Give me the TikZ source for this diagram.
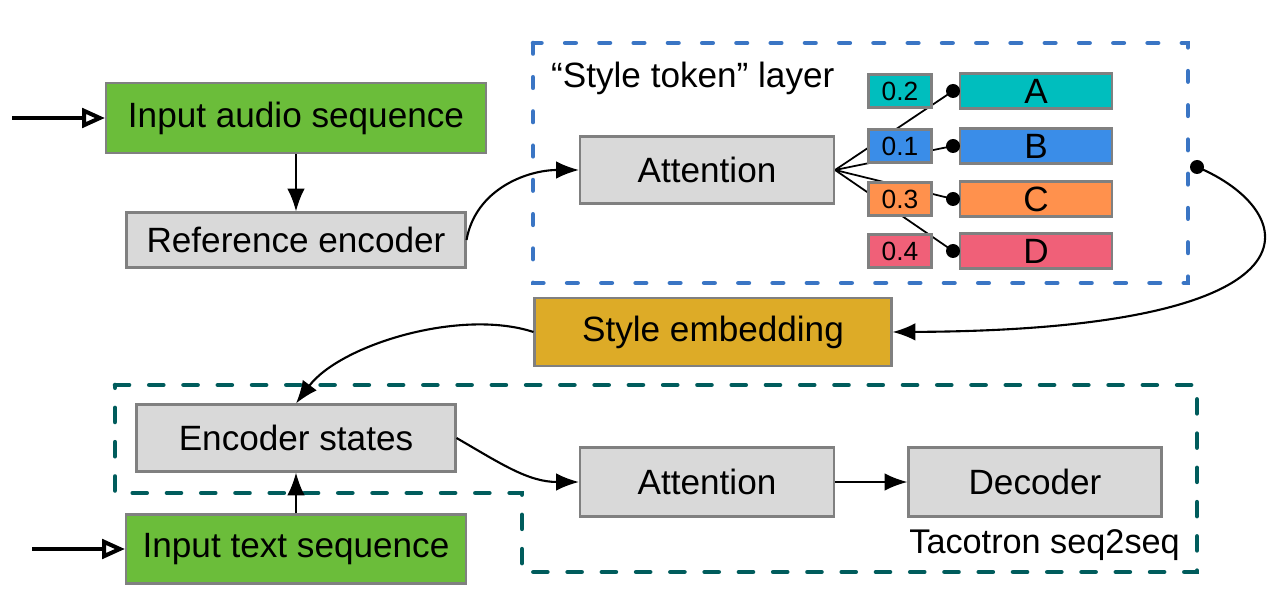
\documentclass[tikz,border=0pt]{standalone}
\usepackage{fontspec}
\setmainfont{Liberation Sans}
\usetikzlibrary{arrows.meta,backgrounds,positioning}
\definecolor{inGreen}{RGB}{107,189,58}
\definecolor{cellGray}{RGB}{217,217,217}
\definecolor{edgeGray}{RGB}{128,128,128}
\definecolor{embGold}{RGB}{221,171,39}
\definecolor{tokA}{RGB}{0,190,190}
\definecolor{tokB}{RGB}{58,141,232}
\definecolor{tokC}{RGB}{255,145,77}
\definecolor{tokD}{RGB}{240,96,120}
\definecolor{gstBlue}{RGB}{58,117,196}
\definecolor{tacoTeal}{RGB}{0,92,92}

\begin{document}
\begin{tikzpicture}[
  x=0.02cm, y=-0.02cm,
  box/.style={draw=edgeGray,line width=1.2pt,fill=#1,inner sep=0pt,font=\fontsize{20}{24}\selectfont},
  box/.default=cellGray,
  wbox/.style={box=#1,minimum width=1.26cm,minimum height=0.66cm,font=\fontsize{15}{17}\selectfont},
  tok/.style={box=#1,minimum width=3.04cm,minimum height=0.7cm},
  dotn/.style={circle,fill=black,inner sep=0pt,minimum size=0.28cm},
  conn/.style={line width=1.2pt,-{Latex[length=13pt,width=10pt]}},
  feed/.style={line width=2.3pt,-{Triangle[open,length=13pt,width=11pt]}},
  region/.style={line width=2.6pt,line cap=round}
]
  \useasboundingbox (0,0) rectangle (1273,614);

  % style token layer
  \draw[region,gstBlue,dash pattern=on 6pt off 13.5pt] (533,43) rectangle (1188,283);
  \node[anchor=base west,font=\fontsize{20}{24}\selectfont] (gstlbl) at (545,88) {``Style token'' layer};

  % tacotron
  \draw[region,tacoTeal,dash pattern=on 8pt off 11.5pt]
    (115,385) -- (1197,385) -- (1197,572) -- (522,572) -- (522,493) -- (115,493) -- cycle;
  \node[anchor=base east,font=\fontsize{19.5}{23}\selectfont] (tacolbl) at (1186,553) {Tacotron seq2seq};

  \node[box=inGreen,minimum width=7.6cm,minimum height=1.4cm] (audio) at (296,118) {Input audio sequence};
  \node[box,minimum width=6.78cm,minimum height=1.1cm] (ref) at (296,240) {Reference encoder};
  \node[box,minimum width=5.08cm,minimum height=1.34cm] (att1) at (707,170) {Attention};
  \node[box=embGold,minimum width=7.14cm,minimum height=1.36cm] (style) at (713,332) {Style embedding};
  \node[box,minimum width=6.38cm,minimum height=1.34cm] (enc) at (296,438) {Encoder states};
  \node[box=inGreen,minimum width=6.8cm,minimum height=1.38cm] (text) at (296,549) {Input text sequence};
  \node[box,minimum width=5.08cm,minimum height=1.38cm] (att2) at (707,482) {Attention};
  \node[box,minimum width=5.06cm,minimum height=1.38cm] (dec) at (1035,482) {Decoder};

  \foreach \nm/\wt/\yy/\col in {A/0.2/91/tokA,B/0.1/146/tokB,C/0.3/199/tokC,D/0.4/251/tokD}{
    \node[wbox=\col] (w\nm) at (900,\yy) {\wt};
    \node[tok=\col] (t\nm) at (1036,\yy) {\nm};
    \node[dotn] (d\nm) at (953,\yy) {};
  }
  \begin{scope}[on background layer]
    \foreach \nm in {A,B,C,D}
      \draw[line width=1pt] (att1.east) -- (d\nm.center);
  \end{scope}

  \coordinate (audioin) at (12,118);
  \coordinate (textin) at (32,549);
  \draw[feed] (audioin) -- (audio.west);
  \draw[feed] (textin) -- (text.west);

  \draw[conn] (audio.south) -- (ref.north);
  \draw[conn] (ref.east) to[out=80,in=180] (att1.west);
  \node[dotn] (gstout) at (1197,167) {};
  \draw[conn] (gstout.center) .. controls (1300,210) and (1340,330) .. (style.east);
  \draw[conn] (style.west) .. controls (460,308) and (340,345) .. (enc.north);
  \draw[conn] (text.north) -- (enc.south);
  \draw[conn] (enc.east) to[out=-30,in=180] (att2.west);
  \draw[conn] (att2.east) -- (dec.west);
\end{tikzpicture}
\end{document}
